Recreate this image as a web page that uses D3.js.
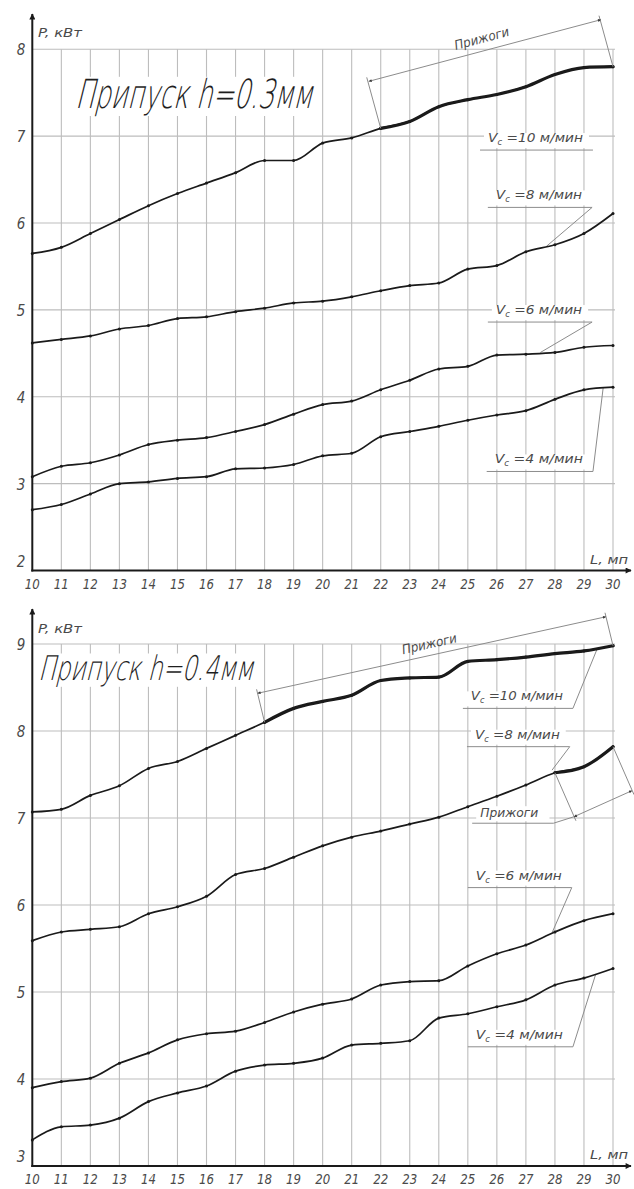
<!DOCTYPE html>
<html>
<head>
<meta charset="utf-8">
<script src="https://cdn.jsdelivr.net/npm/d3@7"></script>
<style>
  html, body { margin: 0; padding: 0; background: #fff; }
  svg { display: block; }
</style>
</head>
<body>
<svg id="chart" width="634" height="1189"></svg>
<script>
// Length of the processed part, L (м.п.)
const lengths = d3.range(10, 31);
const xTickLabels = lengths.map(String);
const yTicksTop = [2, 3, 4, 5, 6, 7, 8];
const yTicksBottom = [3, 4, 5, 6, 7, 8, 9];
const speeds = [10, 8, 6, 4];

// Power P, kW — allowance h = 0.3 mm
const p03_v10 = [5.65, 5.72, 5.88, 6.04, 6.20, 6.34, 6.46, 6.58, 6.72, 6.72, 6.92, 6.98, 7.09, 7.17, 7.34, 7.42, 7.48, 7.57, 7.71, 7.79, 7.80];
const p03_v8  = [4.62, 4.66, 4.70, 4.78, 4.82, 4.90, 4.92, 4.98, 5.02, 5.08, 5.10, 5.15, 5.22, 5.28, 5.31, 5.47, 5.51, 5.67, 5.75, 5.88, 6.11];
const p03_v6  = [3.08, 3.20, 3.24, 3.33, 3.45, 3.50, 3.53, 3.60, 3.68, 3.80, 3.91, 3.95, 4.08, 4.19, 4.32, 4.35, 4.48, 4.49, 4.51, 4.57, 4.59];
const p03_v4  = [2.70, 2.76, 2.88, 3.00, 3.02, 3.06, 3.08, 3.17, 3.18, 3.22, 3.32, 3.35, 3.54, 3.60, 3.66, 3.73, 3.79, 3.84, 3.97, 4.08, 4.11];

// Power P, kW — allowance h = 0.4 mm
const p04_v10 = [7.07, 7.10, 7.26, 7.37, 7.57, 7.65, 7.80, 7.95, 8.10, 8.26, 8.34, 8.41, 8.58, 8.61, 8.62, 8.80, 8.82, 8.85, 8.89, 8.92, 8.98];
const p04_v8  = [5.59, 5.69, 5.72, 5.75, 5.90, 5.98, 6.10, 6.35, 6.42, 6.55, 6.68, 6.78, 6.85, 6.93, 7.01, 7.13, 7.25, 7.38, 7.52, 7.59, 7.82];
const p04_v6  = [3.90, 3.97, 4.01, 4.18, 4.30, 4.45, 4.52, 4.55, 4.65, 4.77, 4.86, 4.92, 5.08, 5.12, 5.13, 5.30, 5.44, 5.54, 5.69, 5.82, 5.90];
const p04_v4  = [3.30, 3.45, 3.47, 3.55, 3.74, 3.84, 3.92, 4.09, 4.16, 4.18, 4.24, 4.39, 4.41, 4.44, 4.70, 4.75, 4.83, 4.91, 5.08, 5.16, 5.27];

const FONT = "'DejaVu Sans Condensed','DejaVu Sans',sans-serif";
const TITLE_FONT = "'DejaVu Sans ExtraLight','DejaVu Sans',sans-serif";
const INK = "#1a1a1a";
const GRID = "#bdbdbd";
const NOTE = "#8c8c8c";
const LABEL = "#4a4a4a";

const svg = d3.select("#chart");
const defs = svg.append("defs");
defs.append("marker").attr("id", "axisArrow")
  .attr("viewBox", "0 0 10 10").attr("refX", 9).attr("refY", 5)
  .attr("markerWidth", 10).attr("markerHeight", 6).attr("markerUnits", "userSpaceOnUse")
  .attr("orient", "auto")
  .append("path").attr("d", "M0,0 L10,5 L0,10 Z").attr("fill", INK);
defs.append("marker").attr("id", "dimArrow")
  .attr("viewBox", "0 0 10 10").attr("refX", 10).attr("refY", 5)
  .attr("markerWidth", 8).attr("markerHeight", 3).attr("markerUnits", "userSpaceOnUse")
  .attr("orient", "auto-start-reverse")
  .append("path").attr("d", "M0,0 L10,5 L0,10 Z").attr("fill", "#333");

const panels = [
  {
    title: "Припуск h=0.3мм",
    titleBox: { x: 75, base: 108, len: 237, size: 40 },
    pLabelBase: 37,
    yTicks: yTicksTop, yRange: [570.5, 49.3], arrowTop: 14,
    series: [p03_v10, p03_v8, p03_v6, p03_v4],
    burns: [{ s: 0, from: 22, to: 30 }],
    labels: [
      { s: 0, from: 25.42, to: 29.31, at: 6.84, leader: null },
      { s: 1, from: 25.69, to: 29.28, at: 6.18, leader: [27.7, 5.73] },
      { s: 2, from: 25.69, to: 29.28, at: 4.86, leader: [27.5, 4.51] },
      { s: 3, from: 25.65, to: 29.31, at: 3.14, leader: [29.66, 4.10] }
    ],
    brackets: [{ s: 0, from: 22, to: 30, ext: [-14, -51], dim: [-12, -47], textOff: 12 }],
    burnNotes: []
  },
  {
    title: "Припуск h=0.4мм",
    titleBox: { x: 38, base: 680, len: 215, size: 34 },
    pLabelBase: 633,
    yTicks: yTicksBottom, yRange: [1166, 644], arrowTop: 609,
    series: [p04_v10, p04_v8, p04_v6, p04_v4],
    burns: [{ s: 0, from: 18, to: 30 }, { s: 1, from: 28, to: 30 }],
    labels: [
      { s: 0, from: 24.83, to: 28.62, at: 8.26, leader: [29.45, 8.94] },
      { s: 1, from: 24.97, to: 28.51, at: 7.82, leader: [27.9, 7.55] },
      { s: 2, from: 25.0, to: 28.58, at: 6.20, leader: [27.9, 5.68] },
      { s: 3, from: 25.0, to: 28.62, at: 4.37, leader: [29.4, 5.20] }
    ],
    brackets: [{ s: 0, from: 18, to: 30, ext: [-8, -33], dim: [-7, -29], textOff: 11 }],
    burnNotes: [{ s: 1, from: 28, to: 30, ext: [21, 48], dim: [19, 44], textL: [25.15, 27.95], textAt: 6.94 }]
  }
];

const x = d3.scaleLinear().domain([10, 30]).range([32.3, 613]);

function valueAt(series, L) {
  const i = Math.min(Math.floor(L - 10), series.length - 2);
  const t = L - 10 - i;
  return series[i] + (series[i + 1] - series[i]) * t;
}

panels.forEach(p => {
  const yDom = d3.extent(p.yTicks);
  const y = d3.scaleLinear().domain(yDom).range(p.yRange);
  const g = svg.append("g");
  const yBase = y(yDom[0]), yTop = y(yDom[1]);

  // grid
  g.append("g").selectAll("line").data(p.yTicks.slice(1)).join("line")
    .attr("x1", x(10)).attr("x2", x(30) + 2)
    .attr("y1", d => y(d)).attr("y2", d => y(d))
    .attr("stroke", GRID).attr("stroke-width", 1.1);
  g.append("g").selectAll("line").data(lengths.slice(1)).join("line")
    .attr("x1", d => x(d)).attr("x2", d => x(d))
    .attr("y1", yBase).attr("y2", yTop)
    .attr("stroke", GRID).attr("stroke-width", 1.1);

  // title, on a clear patch, slanted thin lettering
  const tb = p.titleBox;
  g.append("rect").attr("x", tb.x - 6).attr("y", tb.base - tb.size * 0.78)
    .attr("width", tb.len + 12).attr("height", tb.size * 0.98).attr("fill", "#fff");
  g.append("g").attr("transform", `translate(${tb.x},${tb.base}) skewX(-14)`)
    .append("text").attr("x", 0).attr("y", 0)
    .attr("font-family", TITLE_FONT).attr("font-weight", 200).attr("font-size", tb.size)
    .attr("textLength", tb.len).attr("lengthAdjust", "spacingAndGlyphs")
    .attr("fill", "#1e1e1e").text(p.title);

  // axes
  g.append("line").attr("x1", x(10)).attr("x2", x(10))
    .attr("y1", yBase + 1).attr("y2", p.arrowTop)
    .attr("stroke", INK).attr("stroke-width", 2).attr("marker-end", "url(#axisArrow)");
  g.append("line").attr("x1", x(10) - 1).attr("x2", 631)
    .attr("y1", yBase).attr("y2", yBase)
    .attr("stroke", INK).attr("stroke-width", 2).attr("marker-end", "url(#axisArrow)");

  // tick labels
  g.append("g").selectAll("text").data(p.yTicks).join("text")
    .attr("x", 21).attr("y", (d, i) => i === 0 ? yBase - 4 : y(d) + 6)
    .attr("text-anchor", "middle").attr("font-family", FONT).attr("font-style", "italic")
    .attr("font-size", 15).attr("fill", LABEL).text(d => d);
  g.append("g").selectAll("text").data(lengths).join("text")
    .attr("x", d => x(d)).attr("y", yBase + 18)
    .attr("text-anchor", "middle").attr("font-family", FONT).attr("font-style", "italic")
    .attr("font-size", 14).attr("fill", LABEL)
    .attr("textLength", 15).attr("lengthAdjust", "spacingAndGlyphs")
    .text((d, i) => xTickLabels[i]);
  g.append("text").attr("x", 38).attr("y", p.pLabelBase)
    .attr("font-family", FONT).attr("font-style", "italic").attr("font-size", 12)
    .attr("textLength", 44).attr("lengthAdjust", "spacingAndGlyphs")
    .attr("fill", LABEL).text("P, кВт");
  g.append("text").attr("x", 590).attr("y", yBase - 7)
    .attr("font-family", FONT).attr("font-style", "italic").attr("font-size", 13)
    .attr("textLength", 38).attr("lengthAdjust", "spacingAndGlyphs")
    .attr("fill", LABEL).text("L, мп");

  // speed labels with underline and leader
  p.labels.forEach(lb => {
    const xa = x(lb.from), xb = x(lb.to), yl = y(lb.at);
    g.append("rect").attr("x", xa + 4).attr("y", yl - 17).attr("width", xb - xa - 8).attr("height", 15).attr("fill", "#fff");
    const t = g.append("text").attr("x", xa + 8).attr("y", yl - 8)
      .attr("font-family", FONT).attr("font-style", "italic").attr("font-size", 13)
      .attr("fill", LABEL).attr("textLength", xb - xa - 18).attr("lengthAdjust", "spacingAndGlyphs");
    t.append("tspan").text("V");
    t.append("tspan").attr("font-size", 8).attr("dy", 3).text("c");
    t.append("tspan").attr("dy", -3).text(" =" + speeds[lb.s] + " м/мин");
    g.append("line").attr("x1", xa).attr("x2", xb).attr("y1", yl).attr("y2", yl)
      .attr("stroke", NOTE).attr("stroke-width", 1);
    if (lb.leader) {
      g.append("line").attr("x1", xb).attr("y1", yl)
        .attr("x2", x(lb.leader[0])).attr("y2", y(lb.leader[1]))
        .attr("stroke", NOTE).attr("stroke-width", 1);
    }
  });

  // curves
  const line = d3.line().x((d, i) => x(lengths[i])).y(d => y(d)).curve(d3.curveMonotoneX);
  p.series.forEach(s => {
    g.append("path").attr("d", line(s)).attr("fill", "none")
      .attr("stroke", INK).attr("stroke-width", 1.7);
    g.append("g").selectAll("circle").data(s).join("circle")
      .attr("cx", (d, i) => x(lengths[i])).attr("cy", d => y(d)).attr("r", 1.5).attr("fill", INK);
  });
  // burn zones drawn heavier
  p.burns.forEach(b => {
    const s = p.series[b.s];
    const lineB = d3.line().x(d => x(d[0])).y(d => y(d[1])).curve(d3.curveMonotoneX);
    const pts = lengths.map((L, i) => [L, s[i]]).filter(d => d[0] >= b.from && d[0] <= b.to);
    g.append("path").attr("d", lineB(pts)).attr("fill", "none")
      .attr("stroke", INK).attr("stroke-width", 3.2).attr("stroke-linecap", "round");
  });

  // dimension brackets "Прижоги" above the curve
  p.brackets.forEach(br => {
    const s = p.series[br.s];
    const a = [x(br.from), y(valueAt(s, br.from))];
    const b = [x(br.to), y(valueAt(s, br.to))];
    [a, b].forEach(pt => {
      g.append("line").attr("x1", pt[0]).attr("y1", pt[1])
        .attr("x2", pt[0] + br.ext[0]).attr("y2", pt[1] + br.ext[1])
        .attr("stroke", NOTE).attr("stroke-width", 1);
    });
    const d1 = [a[0] + br.dim[0], a[1] + br.dim[1]], d2 = [b[0] + br.dim[0], b[1] + br.dim[1]];
    g.append("line").attr("x1", d1[0]).attr("y1", d1[1]).attr("x2", d2[0]).attr("y2", d2[1])
      .attr("stroke", NOTE).attr("stroke-width", 1)
      .attr("marker-start", "url(#dimArrow)").attr("marker-end", "url(#dimArrow)");
    const ang = Math.atan2(d2[1] - d1[1], d2[0] - d1[0]);
    const mx = (d1[0] + d2[0]) / 2 + Math.sin(ang) * br.textOff;
    const my = (d1[1] + d2[1]) / 2 - Math.cos(ang) * br.textOff;
    g.append("text").attr("transform", `translate(${mx},${my}) rotate(${ang * 180 / Math.PI})`)
      .attr("text-anchor", "middle").attr("dy", 4)
      .attr("font-family", FONT).attr("font-style", "italic").attr("font-size", 13)
      .attr("textLength", 56).attr("lengthAdjust", "spacingAndGlyphs")
      .attr("fill", LABEL).text("Прижоги");
  });

  // dimension below the curve with an underlined note
  p.burnNotes.forEach(bn => {
    const s = p.series[bn.s];
    const a = [x(bn.from), y(valueAt(s, bn.from))];
    const b = [x(bn.to), y(valueAt(s, bn.to))];
    [a, b].forEach(pt => {
      g.append("line").attr("x1", pt[0]).attr("y1", pt[1])
        .attr("x2", pt[0] + bn.ext[0]).attr("y2", pt[1] + bn.ext[1])
        .attr("stroke", NOTE).attr("stroke-width", 1);
    });
    const d1 = [a[0] + bn.dim[0], a[1] + bn.dim[1]], d2 = [b[0] + bn.dim[0], b[1] + bn.dim[1]];
    g.append("line").attr("x1", d1[0]).attr("y1", d1[1]).attr("x2", d2[0]).attr("y2", d2[1])
      .attr("stroke", NOTE).attr("stroke-width", 1)
      .attr("marker-start", "url(#dimArrow)").attr("marker-end", "url(#dimArrow)");
    const xa = x(bn.textL[0]), xb = x(bn.textL[1]), yl = y(bn.textAt);
    g.append("rect").attr("x", xa + 4).attr("y", yl - 17).attr("width", xb - xa - 8).attr("height", 15).attr("fill", "#fff");
    g.append("text").attr("x", xa + 8).attr("y", yl - 6)
      .attr("font-family", FONT).attr("font-style", "italic").attr("font-size", 13)
      .attr("textLength", 58).attr("lengthAdjust", "spacingAndGlyphs")
      .attr("fill", LABEL).text("Прижоги");
    g.append("line").attr("x1", xa).attr("x2", xb).attr("y1", yl).attr("y2", yl)
      .attr("stroke", NOTE).attr("stroke-width", 1);
    g.append("line").attr("x1", xb).attr("y1", yl).attr("x2", d1[0]).attr("y2", d1[1])
      .attr("stroke", NOTE).attr("stroke-width", 1);
  });
});
</script>
</body>
</html>
